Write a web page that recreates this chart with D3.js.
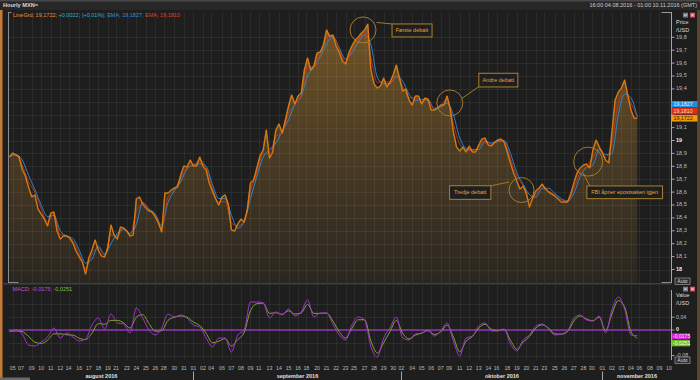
<!DOCTYPE html>
<html><head><meta charset="utf-8">
<script src="https://cdn.jsdelivr.net/npm/d3@7"></script>
<style>
html,body{margin:0;padding:0;background:#1e1e1e;overflow:hidden;}
svg{display:block;font-family:"Liberation Sans",Arial,sans-serif;}
</style></head><body>
<svg id="chart" width="700" height="380"></svg>
<script>
// ---------------- DATA ----------------
const seriesStart = "2016-08-04T16:00:00Z";
const axisEnd = "2016-11-10T01:00:00Z";
const priceStepHours = 8;      // trading hours between price samples
const indicatorStepHours = 16; // trading hours between EMA / MACD samples

const price = [
18.874,18.903,18.888,18.872,18.779,18.725,18.640,18.564,18.578,18.469,
18.430,18.391,18.337,18.438,18.446,18.298,18.236,18.260,18.260,18.244,
18.205,18.143,18.097,18.058,17.965,18.089,18.151,18.229,18.151,18.105,
18.097,18.167,18.345,18.267,18.236,18.329,18.322,18.298,18.260,18.267,
18.547,18.562,18.508,18.477,18.453,18.446,18.407,18.360,18.291,18.593,
18.593,18.616,18.632,18.640,18.733,18.802,18.795,18.849,18.802,18.802,
18.872,18.802,18.771,18.671,18.609,18.547,18.500,18.562,18.578,18.508,
18.306,18.298,18.353,18.391,18.368,18.461,18.671,18.694,18.787,18.880,
18.926,19.081,18.864,18.911,19.081,19.128,19.058,19.159,19.267,19.353,
19.283,19.345,19.368,19.547,19.640,19.547,19.578,19.678,19.686,19.740,
19.857,19.810,19.818,19.733,19.686,19.616,19.593,19.678,19.733,19.779,
19.802,19.833,19.857,19.903,19.547,19.438,19.407,19.422,19.484,19.415,
19.453,19.508,19.585,19.484,19.384,19.399,19.314,19.275,19.345,19.345,
19.283,19.329,19.322,19.236,19.236,19.252,19.275,19.275,19.345,19.244,
19.066,18.950,18.919,18.950,18.911,18.957,18.911,18.911,18.965,19.012,
19.019,18.965,18.957,18.988,19.004,19.012,18.988,18.911,18.826,18.748,
18.686,18.624,18.647,18.593,18.484,18.554,18.609,18.632,18.663,18.624,
18.601,18.585,18.570,18.547,18.523,18.523,18.523,18.585,18.671,18.748,
18.787,18.810,18.818,18.787,18.926,19.004,18.950,18.903,18.849,18.826,
19.066,19.314,19.376,19.407,19.469,19.353,19.236,19.174,19.1722];

const emaBlue = [
18.874,18.89,18.85,18.73,18.62,18.50,18.41,18.42,18.30,18.26,
18.24,18.15,18.05,18.08,18.18,18.12,18.20,18.28,18.31,18.28,
18.35,18.52,18.47,18.43,18.34,18.52,18.61,18.68,18.78,18.81,
18.82,18.80,18.66,18.55,18.55,18.42,18.32,18.37,18.55,18.72,
18.87,18.93,18.98,19.07,19.16,19.28,19.34,19.50,19.57,19.65,
19.75,19.80,19.72,19.63,19.68,19.76,19.82,19.74,19.49,19.44,
19.44,19.50,19.46,19.36,19.31,19.32,19.31,19.25,19.26,19.29,
19.20,19.02,18.94,18.93,18.93,18.99,18.98,18.99,19.00,18.90,
18.75,18.66,18.58,18.56,18.63,18.63,18.59,18.55,18.53,18.59,
18.72,18.79,18.81,18.93,18.89,18.90,19.20,19.36,19.33,19.1827];

const emaRed = [
18.874,18.89,18.81,18.68,18.60,18.47,18.37,18.43,18.27,18.26,
18.22,18.12,18.01,18.12,18.17,18.11,18.27,18.26,18.32,18.27,
18.45,18.51,18.46,18.42,18.32,18.56,18.62,18.71,18.79,18.81,
18.85,18.79,18.63,18.52,18.53,18.36,18.34,18.37,18.61,18.75,
18.90,18.90,19.03,19.06,19.21,19.28,19.35,19.57,19.57,19.67,
19.80,19.81,19.71,19.61,19.70,19.78,19.84,19.64,19.45,19.46,
19.45,19.49,19.42,19.33,19.33,19.30,19.32,19.24,19.27,19.32,
19.13,18.97,18.93,18.92,18.95,19.00,18.97,19.00,18.99,18.86,
18.72,18.65,18.53,18.58,18.65,18.61,18.58,18.54,18.53,18.63,
18.75,18.80,18.87,18.94,18.87,18.98,19.29,19.38,19.29,19.1810];

const macd = [
-0.0053,0,-0.0125,-0.0469,-0.05,-0.0375,-0.0219,0.0063,-0.025,-0.0094,
-0.0219,-0.0344,-0.0281,0.0156,0.0375,0.0031,0.05,0.0219,0.0188,-0.0094,
0.0688,0.0375,0,-0.0156,0.0063,0.05,0.0406,0.0469,0.0375,0.0156,
0.0094,-0.025,-0.0531,-0.025,-0.025,-0.0688,-0.0156,0,0.0875,0.0875,
0.0844,0.0375,0.0563,0.0469,0.0656,0.0438,0.0563,0.0938,0.0406,0.0531,
0.0531,0.0188,-0.0156,-0.0313,0.0156,0.0406,0.0313,-0.0531,-0.0844,-0.025,
0.0063,0.0406,-0.025,-0.0313,-0.0125,-0.0094,0,-0.0188,-0.0031,0.0219,
-0.0344,-0.0813,-0.025,-0.0188,0.0125,0.0219,-0.0031,-0.0031,0.0031,-0.0438,
-0.0656,-0.0313,-0.0156,0.0125,0.0188,0.0031,-0.0156,-0.0125,-0.0031,0.0375,
0.0469,0.0313,0.0281,0.0438,-0.0094,0.0625,0.1031,0.0656,-0.0156,-0.0175];

const signal = [
-0.005,-0.003,-0.005,-0.020,-0.038,-0.042,-0.032,-0.012,-0.012,-0.015,
-0.016,-0.026,-0.030,-0.010,0.020,0.018,0.030,0.030,0.022,0.006,
0.040,0.048,0.020,-0.004,-0.002,0.030,0.040,0.044,0.040,0.025,
0.014,-0.010,-0.040,-0.035,-0.027,-0.050,-0.030,-0.008,0.060,0.082,
0.084,0.052,0.054,0.049,0.060,0.050,0.053,0.080,0.052,0.052,
0.053,0.028,-0.005,-0.025,0.005,0.032,0.032,-0.035,-0.072,-0.040,
-0.005,0.030,-0.010,-0.028,-0.016,-0.010,-0.002,-0.014,-0.006,0.015,
-0.022,-0.068,-0.035,-0.020,0.006,0.018,0.002,-0.002,0.002,-0.032,
-0.060,-0.038,-0.020,0.006,0.016,0.006,-0.012,-0.013,-0.005,0.028,
0.044,0.034,0.029,0.040,-0.002,0.050,0.092,0.072,-0.005,-0.0251];

const lastChange = 0.0022, lastChangePct = 0.01;

const tickDates = [
"2016-08-05","2016-08-07","2016-08-09","2016-08-10","2016-08-11","2016-08-12","2016-08-14","2016-08-16","2016-08-17","2016-08-18","2016-08-19","2016-08-21","2016-08-23","2016-08-24","2016-08-25","2016-08-26","2016-08-28","2016-08-30","2016-08-31",
"2016-09-01","2016-09-02","2016-09-04","2016-09-06","2016-09-07","2016-09-08","2016-09-09","2016-09-11","2016-09-13","2016-09-14","2016-09-15","2016-09-16","2016-09-18","2016-09-20","2016-09-21","2016-09-22","2016-09-23","2016-09-25","2016-09-27","2016-09-28","2016-09-29","2016-09-30",
"2016-10-02","2016-10-04","2016-10-05","2016-10-06","2016-10-07","2016-10-09","2016-10-11","2016-10-12","2016-10-13","2016-10-14","2016-10-16","2016-10-18","2016-10-19","2016-10-20","2016-10-21","2016-10-23","2016-10-25","2016-10-26","2016-10-27","2016-10-28","2016-10-30",
"2016-11-01","2016-11-02","2016-11-03","2016-11-04","2016-11-06","2016-11-08","2016-11-09","2016-11-10"];
const monthLabels = ["august 2016","september 2016","oktober 2016","november 2016"];
const monthStarts = ["2016-08-01","2016-09-01","2016-10-01","2016-11-01"];
const priceTicks = [18,18.1,18.2,18.3,18.4,18.5,18.6,18.7,18.8,18.9,19,19.1,19.2,19.3,19.4,19.5,19.6,19.7,19.8];
const macdTicks = [0.08,0.04,0,-0.04,-0.08];
const macdTickLabels = [0.04,0,-0.04,-0.08];

const annotations = [
  {label:"Første debatt", time:"2016-09-26T20:00:00Z", value:19.857},
  {label:"Andre debatt", time:"2016-10-09T23:00:00Z", value:19.291},
  {label:"Tredje debatt", time:"2016-10-19T12:00:00Z", value:18.616},
  {label:"FBI åpner epostsaken igjen", time:"2016-10-28T12:00:00Z", value:18.836}
];

// ---------------- LAYOUT ----------------
const svg = d3.select("#chart");
const P = {left:8.5, right:671.5, top:12, bottom:283};
const M = {top:286, bottom:360};

const loc = d3.formatLocale({decimal:",", thousands:".", grouping:[3], currency:["",""], minus:"-"});
const f4 = loc.format(".4f"), f1 = loc.format(".1f"), f2 = loc.format(".2f");

const START = Date.parse(seriesStart);
function isOpen(ms){
  const d = new Date(ms), wd = d.getUTCDay(), h = d.getUTCHours();
  if (wd === 6) return false;
  if (wd === 5 && h >= 21) return false;
  if (wd === 0 && h < 21) return false;
  return true;
}
function tradingHours(s){
  const ms = typeof s === "number" ? s : Date.parse(s.length === 10 ? s + "T00:00:00Z" : s);
  let n = 0;
  for (let t = START; t < ms; t += 3600e3) if (isOpen(t)) n++;
  return n;
}
const x = d3.scaleLinear().domain([0, tradingHours(axisEnd)]).range([9.5, 669.4]);
const yP = d3.scaleLinear().domain([18, 19.8]).range([269.5, 37.3]);
const yM = d3.scaleLinear().domain([-0.08, 0.08]).range([355.6, 304.4]);

// background & frame
svg.append("rect").attr("width",700).attr("height",380).attr("fill","#1e1e1e");
svg.append("rect").attr("x",0).attr("y",0).attr("width",700).attr("height",10).attr("fill","#272727");
svg.append("rect").attr("x",0).attr("y",0).attr("width",700).attr("height",1.5).attr("fill","#474747");
svg.append("rect").attr("x",0).attr("y",10).attr("width",2.5).attr("height",370).attr("fill","#c57a38");
svg.append("rect").attr("x",697).attr("y",10).attr("width",3).attr("height",370).attr("fill","#5b4530");
svg.append("rect").attr("x",0).attr("y",377.5).attr("width",30).attr("height",2.5).attr("fill","#6a6a6a");

svg.append("text").attr("x",3).attr("y",6).attr("dominant-baseline","middle")
  .attr("font-size",5.6).attr("font-weight","bold").attr("fill","#d8d8d8").text("Hourly MXN=");
svg.append("text").attr("x",697).attr("y",6).attr("dominant-baseline","middle").attr("text-anchor","end")
  .attr("font-size",5.5).attr("fill","#cfcfcf").text("16:00 04.08.2016 - 01:00 10.11.2016 (GMT)");

const defs = svg.append("defs");
defs.append("clipPath").attr("id","cp").append("rect")
  .attr("x",P.left).attr("y",P.top).attr("width",P.right-P.left).attr("height",P.bottom-P.top);
defs.append("clipPath").attr("id","cm").append("rect")
  .attr("x",P.left).attr("y",M.top).attr("width",P.right-P.left).attr("height",M.bottom-M.top);
const g = defs.append("linearGradient").attr("id","pf").attr("gradientUnits","userSpaceOnUse")
  .attr("x1",0).attr("y1",20).attr("x2",0).attr("y2",P.bottom);
g.append("stop").attr("offset","0%").attr("stop-color","#745626");
g.append("stop").attr("offset","45%").attr("stop-color","#4d3d24");
g.append("stop").attr("offset","100%").attr("stop-color","#2a2620");

const tickX = tickDates.map(d => x(tradingHours(d)));

// ---------------- PRICE PANEL ----------------
const pp = svg.append("g").attr("clip-path","url(#cp)");
const pH = (d,i) => x(i*priceStepHours);
pp.append("path").datum(price)
  .attr("d", d3.area().x(pH).y0(P.bottom).y1(d => yP(d)))
  .attr("fill","url(#pf)");
const gridP = pp.append("g").attr("stroke","rgba(255,255,255,0.06)").attr("stroke-width",1);
priceTicks.forEach(v => gridP.append("line").attr("x1",P.left).attr("x2",P.right)
  .attr("y1",Math.round(yP(v))+0.5).attr("y2",Math.round(yP(v))+0.5));
tickX.forEach(px => gridP.append("line").attr("x1",Math.round(px)+0.5).attr("x2",Math.round(px)+0.5)
  .attr("y1",P.top).attr("y2",P.bottom));

const iH = (d,i) => x(i*indicatorStepHours);
pp.append("path").datum(emaBlue).attr("d", d3.line().x(iH).y(d=>yP(d)).curve(d3.curveMonotoneX))
  .attr("fill","none").attr("stroke","#2b8fdc").attr("stroke-width",0.9);
pp.append("path").datum(emaRed).attr("d", d3.line().x(iH).y(d=>yP(d)).curve(d3.curveMonotoneX))
  .attr("fill","none").attr("stroke","#d8381c").attr("stroke-width",0.8);
const priceLine = d3.line().x(pH).y(d=>yP(d));
pp.append("path").datum(price).attr("d",priceLine)
  .attr("fill","none").attr("stroke","#dba21f").attr("stroke-width",1.6).attr("stroke-opacity",0.5).attr("stroke-linejoin","round");
pp.append("path").datum(price).attr("d",priceLine)
  .attr("fill","none").attr("stroke","#f5780c").attr("stroke-width",0.85).attr("stroke-linejoin","round");

// annotations
const annLayout = [
  {r:13,  bx:29,  by:-6,    bw:40,   bh:13,   l:[13.5,-7.5,29,-6]},
  {r:13,  bx:29,  by:-29.7, bw:39,   bh:13.7, l:[12,-4.5,29,-16.3]},
  {r:12.5,bx:-72, by:-4.3,  bw:41.3, bh:13.6, l:[-30.7,-4.3,-12.2,-8]},
  {r:14.5,bx:-1.3,by:24.3,  bw:75.7, bh:12.7, l:[-5,11.6,1.7,24.3]}
];
const annG = svg.append("g");
annotations.forEach((a,k) => {
  const L = annLayout[k];
  const cx = x(tradingHours(a.time)), cy = yP(a.value);
  annG.append("circle").attr("cx",cx).attr("cy",cy).attr("r",L.r)
    .attr("fill","none").attr("stroke","#a8832e").attr("stroke-width",0.9);
  annG.append("line").attr("x1",cx+L.l[0]).attr("y1",cy+L.l[1]).attr("x2",cx+L.l[2]).attr("y2",cy+L.l[3])
    .attr("stroke","#a8832e").attr("stroke-width",0.9);
  annG.append("rect").attr("x",cx+L.bx).attr("y",cy+L.by).attr("width",L.bw).attr("height",L.bh)
    .attr("fill","#1f1f1f").attr("stroke","#a8832e").attr("stroke-width",1);
  annG.append("text").attr("x",cx+L.bx+L.bw/2).attr("y",cy+L.by+L.bh/2+0.3)
    .attr("text-anchor","middle").attr("dominant-baseline","middle")
    .attr("font-size",5.5).attr("fill","#e6a43a").text(a.label);
});

// frame lines
svg.append("line").attr("x1",P.left).attr("x2",P.left).attr("y1",P.top).attr("y2",P.bottom).attr("stroke","#8a8a8a");
svg.append("line").attr("x1",P.left).attr("x2",P.left+3).attr("y1",P.top+0.5).attr("y2",P.top+0.5).attr("stroke","#8a8a8a");
svg.append("line").attr("x1",P.right-10).attr("x2",P.right).attr("y1",P.top+0.5).attr("y2",P.top+0.5).attr("stroke","#9a9a9a");
svg.append("line").attr("x1",P.right).attr("x2",P.right).attr("y1",P.top).attr("y2",P.bottom).attr("stroke","#a5a5a5");

// price axis
const axP = svg.append("g");
const lastPrice = price[price.length-1], lastBlue = emaBlue[emaBlue.length-1], lastRed = emaRed[emaRed.length-1];
const pBoxes = [
  {v:lastBlue, fill:"#1b8fe6", col:"#eaf4ff", off:-14},
  {v:lastRed, fill:"#de2e12", col:"#ffd9cc", off:-7},
  {v:lastPrice, fill:"#f19a06", col:"#1a1a1a", off:0}
];
const pBoxY = pBoxes.map(b => yP(lastPrice) + b.off);
priceTicks.forEach(v => {
  const yy = yP(v);
  axP.append("line").attr("x1",P.right).attr("x2",P.right+3).attr("y1",yy).attr("y2",yy).attr("stroke","#a5a5a5");
  if (pBoxY.some(by => Math.abs(by - yy) < 6.5)) return; // covered by value boxes
  const isInt = Math.abs(v - Math.round(v)) < 1e-9;
  axP.append("text").attr("x",P.right+4.5).attr("y",yy).attr("dominant-baseline","middle")
    .attr("font-size",5.5).attr("font-weight",isInt?"bold":"normal").attr("fill",isInt?"#f0f0f0":"#bdbdbd")
    .text(isInt ? String(Math.round(v)) : f1(v));
});
axP.append("text").attr("x",P.right+4.5).attr("y",23).attr("dominant-baseline","middle").attr("font-size",5.5).attr("fill","#dcdcdc").text("Price");
axP.append("text").attr("x",P.right+4.5).attr("y",31).attr("dominant-baseline","middle").attr("font-size",5.5).attr("fill","#dcdcdc").text("/USD");

pBoxes.forEach((b,k) => {
  const cy = pBoxY[k];
  axP.append("rect").attr("x",P.right).attr("y",cy-3.25).attr("width",26).attr("height",6.5).attr("fill",b.fill);
  axP.append("text").attr("x",P.right+2).attr("y",cy+0.2).attr("dominant-baseline","middle")
    .attr("font-size",5.3).attr("fill",b.col).text(f4(b.v));
});
function autoBtn(yTop){
  axP.append("rect").attr("x",675).attr("y",yTop).attr("width",15).attr("height",6.5)
    .attr("fill","#2c2c2c").attr("stroke","#9a9a9a").attr("stroke-width",0.7);
  axP.append("text").attr("x",682.5).attr("y",yTop+3.4).attr("text-anchor","middle").attr("dominant-baseline","middle")
    .attr("font-size",5).attr("fill","#dcdcdc").text("Auto");
}
function winBtns(yTop){
  axP.append("rect").attr("x",683).attr("y",yTop).attr("width",5).attr("height",4.8).attr("fill","#6f7f95");
  axP.append("line").attr("x1",684.2).attr("x2",686.8).attr("y1",yTop+2.4).attr("y2",yTop+2.4).attr("stroke","#fff").attr("stroke-width",0.8);
  axP.append("rect").attr("x",690).attr("y",yTop).attr("width",5).attr("height",4.8).attr("fill","#c8505a");
  axP.append("path").attr("d",`M691.2,${yTop+1.2}L693.8,${yTop+3.6}M693.8,${yTop+1.2}L691.2,${yTop+3.6}`)
    .attr("stroke","#fff").attr("stroke-width",0.8);
}
autoBtn(278);
winBtns(12.7);

// legend
const leg = svg.append("text").attr("x",13).attr("y",15.8).attr("dominant-baseline","middle").attr("font-size",5.5);
leg.append("tspan").attr("fill","#e9952c").text(`LineGrd; ${f4(lastPrice)}; `);
leg.append("tspan").attr("fill","#2cb4cf").text(`${loc.format("+.4f")(lastChange)}; (${loc.format("+.2f")(lastChangePct)}%); `);
leg.append("tspan").attr("fill","#2f8fe0").text(`EMA; ${f4(lastBlue)}; `);
leg.append("tspan").attr("fill","#e2401f").text(`EMA; ${f4(lastRed)}`);

// separator
svg.append("rect").attr("x",2.5).attr("y",283).attr("width",P.right-2.5).attr("height",1.6).attr("fill","#3e3e3e");
svg.append("line").attr("x1",P.left).attr("x2",P.left+10).attr("y1",282.5).attr("y2",282.5).attr("stroke","#8a8a8a");
svg.append("line").attr("x1",P.right-10).attr("x2",P.right).attr("y1",282.5).attr("y2",282.5).attr("stroke","#8a8a8a");

// ---------------- MACD PANEL ----------------
const mp = svg.append("g").attr("clip-path","url(#cm)");
const gridM = mp.append("g").attr("stroke","rgba(255,255,255,0.06)");
macdTicks.forEach(v => gridM.append("line").attr("x1",P.left).attr("x2",P.right)
  .attr("y1",Math.round(yM(v))+0.5).attr("y2",Math.round(yM(v))+0.5));
tickX.forEach(px => gridM.append("line").attr("x1",Math.round(px)+0.5).attr("x2",Math.round(px)+0.5)
  .attr("y1",M.top).attr("y2",M.bottom));
mp.append("line").attr("x1",P.left).attr("x2",P.right).attr("y1",yM(0)).attr("y2",yM(0))
  .attr("stroke","#9237b8").attr("stroke-width",1.4);
mp.append("path").datum(signal).attr("d", d3.line().x(iH).y(d=>yM(d)).curve(d3.curveMonotoneX))
  .attr("fill","none").attr("stroke","#7fa82a").attr("stroke-width",1);
mp.append("path").datum(macd).attr("d", d3.line().x(iH).y(d=>yM(d)).curve(d3.curveMonotoneX))
  .attr("fill","none").attr("stroke","#a235cf").attr("stroke-width",1);

svg.append("line").attr("x1",P.right).attr("x2",P.right).attr("y1",M.top+4).attr("y2",M.bottom).attr("stroke","#a5a5a5");
const lastMacd = macd[macd.length-1], lastSig = signal[signal.length-1];
const mBoxes = [{v:lastMacd, fill:"#cf22d2", col:"#ffe8ff", off:0.8},{v:lastSig, fill:"#74c21c", col:"#f4fff0", off:7.6}];
const mBoxY = mBoxes.map(b => yM(lastMacd) + b.off);
macdTickLabels.forEach(v => {
  const yy = yM(v);
  axP.append("line").attr("x1",P.right).attr("x2",P.right+3).attr("y1",yy).attr("y2",yy).attr("stroke","#a5a5a5");
  if (mBoxY.some(by => Math.abs(by - yy) < 5)) return; // covered by value boxes
  axP.append("text").attr("x",P.right+4.5).attr("y",v===0?yy-0.6:yy).attr("dominant-baseline","middle")
    .attr("font-size",5.3).attr("font-weight",v===0?"bold":"normal").attr("fill",v===0?"#f0f0f0":"#bdbdbd")
    .text(v===0 ? "0" : f2(v));
});
axP.append("text").attr("x",P.right+4.5).attr("y",296).attr("dominant-baseline","middle").attr("font-size",5.5).attr("fill","#dcdcdc").text("Value");
axP.append("text").attr("x",P.right+4.5).attr("y",304).attr("dominant-baseline","middle").attr("font-size",5.5).attr("fill","#dcdcdc").text("/USD");
mBoxes.forEach((b,k) => {
  const cy = mBoxY[k];
  axP.append("rect").attr("x",P.right).attr("y",cy-3.1).attr("width",18.5).attr("height",6.2).attr("fill",b.fill);
  axP.append("text").attr("x",P.right+1.5).attr("y",cy+0.2).attr("dominant-baseline","middle")
    .attr("font-size",5.1).attr("fill",b.col).text(f4(b.v));
});
autoBtn(357);
winBtns(286.7);

const legM = svg.append("text").attr("x",12.5).attr("y",289.5).attr("dominant-baseline","middle").attr("font-size",5.5);
legM.append("tspan").attr("fill","#c04ee0").text(`MACD; ${f4(lastMacd)}; `);
legM.append("tspan").attr("fill","#86c232").text(f4(lastSig));

// ---------------- X AXIS ----------------
const axX = svg.append("g");
tickDates.forEach((d,k) => {
  axX.append("text").attr("x",tickX[k]).attr("y",369).attr("text-anchor","middle").attr("dominant-baseline","middle")
    .attr("font-size",5.2).attr("fill","#bcbcbc").text(d.slice(8,10));
});
const mBounds = monthStarts.map(d => Math.max(x(0), x(tradingHours(d))));
mBounds.push(P.right);
monthLabels.forEach((m,k) => {
  if (k > 0) axX.append("line").attr("x1",Math.round(mBounds[k])+0.5).attr("x2",Math.round(mBounds[k])+0.5)
    .attr("y1",371.5).attr("y2",380).attr("stroke","#a8a8a8");
  axX.append("text").attr("x",(mBounds[k]+mBounds[k+1])/2).attr("y",376.5).attr("text-anchor","middle")
    .attr("dominant-baseline","middle").attr("font-size",5.5).attr("font-weight","bold").attr("fill","#e0e0e0").text(m);
});
</script>
</body></html>
